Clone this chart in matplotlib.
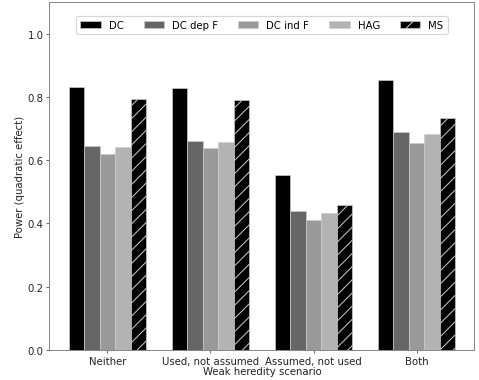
import numpy as np
import matplotlib
matplotlib.use("Agg")
import matplotlib.pyplot as plt

scenarios = ["Neither", "Used, not assumed", "Assumed, not used", "Both"]
methods = ["DC", "DC dep F", "DC ind F", "HAG", "MS"]
dc = [0.832, 0.828, 0.554, 0.854]
dc_dep_f = [0.645, 0.660, 0.440, 0.688]
dc_ind_f = [0.620, 0.639, 0.411, 0.655]
hag = [0.642, 0.658, 0.433, 0.682]
ms = [0.794, 0.790, 0.459, 0.734]

series = [dc, dc_dep_f, dc_ind_f, hag, ms]
colors = ["#000000", "#666666", "#999999", "#b3b3b3", "#000000"]
hatches = [None, None, None, None, "//"]

plt.rcParams["hatch.color"] = "#bbbbbb"
plt.rcParams["hatch.linewidth"] = 0.9

fs = 9.1
fig, ax = plt.subplots(figsize=(6.0, 4.772), dpi=479 / 6.0)
fig.subplots_adjust(left=0.1033, right=0.9906, top=0.992, bottom=0.0787)

x = np.arange(len(scenarios))
w = 0.15
for i, (vals, c, h, name) in enumerate(zip(series, colors, hatches, methods)):
    ax.bar(x + (i - 2) * w, vals, width=w, color=c, hatch=h,
           edgecolor="#cccccc", linewidth=0.6, label=name)

ax.set_ylim(0, 1.1)
ax.set_xticks(x)
ax.set_xticklabels(scenarios, fontsize=fs)
ax.set_yticks([0.0, 0.2, 0.4, 0.6, 0.8, 1.0])
ax.tick_params(axis="both", labelsize=fs, length=2.8, pad=2.5,
               colors="#555555", labelcolor="#222222")
ax.set_xlabel("Weak heredity scenario", fontsize=fs, labelpad=0.5, color="#222222")
ax.set_ylabel("Power (quadratic effect)", fontsize=fs, labelpad=2, color="#222222")
for s in ax.spines.values():
    s.set_color("#888888")
    s.set_linewidth(0.9)

ax.legend(loc="upper center", ncol=5, fontsize=9.1, bbox_to_anchor=(0.5, 0.975),
          frameon=True)

fig.savefig("out.png", dpi=479 / 6.0)
